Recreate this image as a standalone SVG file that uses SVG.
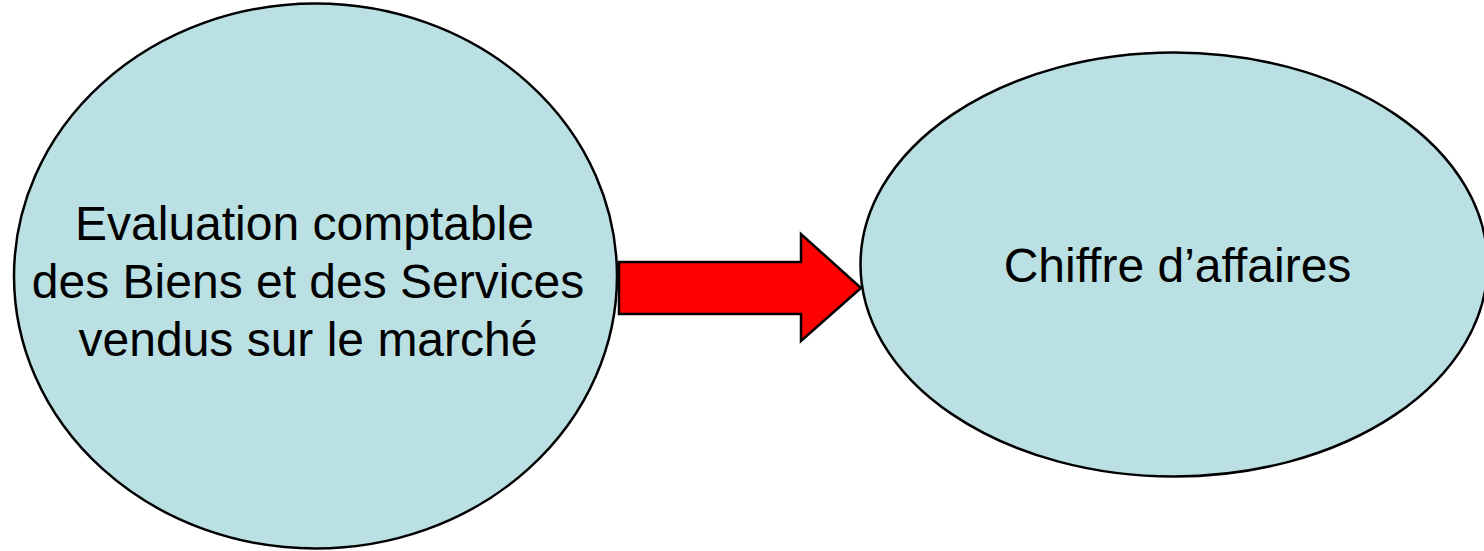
<svg xmlns="http://www.w3.org/2000/svg" width="1484" height="551" viewBox="0 0 1484 551">
  <style>
    .node { fill: #bae0e3; stroke: #000000; stroke-width: 2.5; }
    .label { font-family: "Liberation Sans", Arial, sans-serif; font-size: 48px; fill: #000000; text-anchor: middle; }
    .flow { fill: #ff0000; stroke: #000000; stroke-width: 2.5; stroke-linejoin: miter; }
  </style>
  <rect x="0" y="0" width="1484" height="551" fill="#ffffff"/>

  <!-- source: market valuation -->
  <g id="evaluation">
    <ellipse class="node" cx="315.5" cy="276" rx="301.5" ry="272.5"/>
    <text class="label"><tspan x="304.5" y="240">Evaluation comptable</tspan><tspan x="308" y="298">des Biens et des Services</tspan><tspan x="308" y="356">vendus sur le marché</tspan></text>
  </g>

  <!-- target: turnover -->
  <g id="chiffre-affaires">
    <ellipse class="node" cx="1174" cy="264.5" rx="313.5" ry="212"/>
    <text class="label" x="1177.5" y="282">Chiffre d’affaires</text>
  </g>

  <!-- block arrow between the two nodes -->
  <g id="connectors">
    <polygon class="flow" points="619,262 801,262 801,234 861,288 801,341 801,314 619,314"/>
  </g>
</svg>
